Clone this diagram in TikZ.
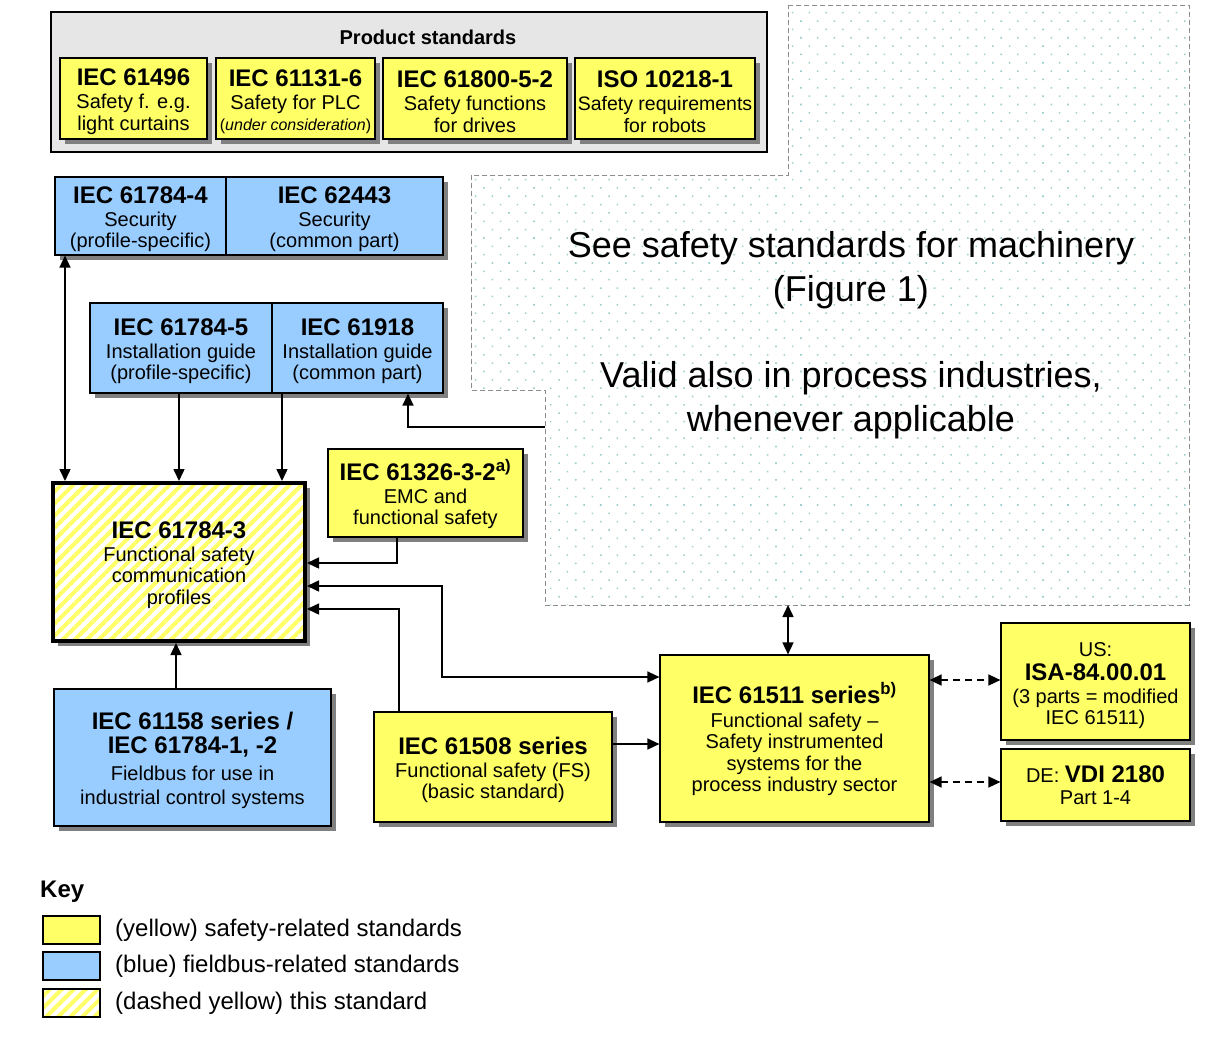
\documentclass[tikz,border=0pt]{standalone}
\usepackage{fontspec}
\setmainfont{Liberation Sans}
\usetikzlibrary{arrows.meta,shadows,patterns.meta}
\definecolor{yel}{HTML}{FFFF66}
\definecolor{blu}{HTML}{99CCFF}
\definecolor{pgray}{HTML}{E6E6E6}
\definecolor{dotc}{HTML}{9CCECE}
\newcommand\ttl[1]{{\bfseries\fontsize{24}{21.5}\selectfont #1}}
\newcommand\tp{\rule{0pt}{23pt}}
\begin{document}
\begin{tikzpicture}[x=1pt,y=-1pt,
  sbox/.style={draw=black, line width=1.2pt, inner sep=0pt, align=center,
    font=\fontsize{20}{21.5}\selectfont,
    drop shadow={shadow xshift=5pt,shadow yshift=-5pt,fill=black!50,opacity=1}},
  ybx/.style={sbox,fill=yel},
  bbx/.style={sbox,fill=blu},
  hatch/.style={preaction={fill=white},pattern={Lines[angle=45,distance=8.5pt,line width=4pt]},pattern color=yel},
  arr/.style={line width=1.5pt,-{Triangle[length=12pt,width=11pt]}},
  darr/.style={line width=1.5pt,{Triangle[length=12pt,width=11pt]}-{Triangle[length=12pt,width=11pt]}},
  ddarr/.style={darr,dash pattern=on 7pt off 5pt},
  keytxt/.style={anchor=west,inner sep=0pt,font=\fontsize{24}{26}\selectfont}
]
\useasboundingbox (0,0) rectangle (1210,1039);

% dotted region (machinery standards)
\draw[black!45, line width=1pt, dash pattern=on 5pt off 3pt,
      pattern={Dots[radius=1.1pt,distance=11.8pt,angle=45]}, pattern color=dotc]
  (788,5) -- (1189,5) -- (1189,605) -- (545,605) -- (545,390) -- (471,390) -- (471,175) -- (788,175) -- cycle;
\node[align=center, font=\fontsize{36}{44}\selectfont] (note) at (851,335)
  {See safety standards for machinery\\ (Figure 1)\\[42pt] Valid also in process industries,\\ whenever applicable};

% product standards
\node[draw=black, line width=1.2pt, fill=pgray, minimum width=716pt, minimum height=140pt, inner sep=0pt] (prod) at (409,82) {};
\node[font=\bfseries\fontsize{20}{22}\selectfont] (ptitle) at (428,37) {Product standards};
\node[ybx, minimum width=147pt, minimum height=81pt] (p1) at (133.5,98.5)
  {\tp\ttl{IEC 61496}\\[1.5pt] Safety f. e.g.\\ light curtains};
\node[ybx, minimum width=159pt, minimum height=81pt] (p2) at (295.5,98.5)
  {\tp\ttl{IEC 61131-6}\\[1.5pt] Safety for PLC\\ {\fontsize{16}{21.5}\selectfont(\textit{under consideration})}};
\node[ybx, minimum width=184pt, minimum height=81pt] (p3) at (475,98.5)
  {\tp\ttl{IEC 61800-5-2}\\[1.5pt] Safety functions\\ for drives};
\node[ybx, minimum width=180pt, minimum height=81pt, font=\fontsize{19.5}{21.5}\selectfont] (p4) at (665,98.5)
  {\tp\ttl{ISO 10218-1}\\[1.5pt] Safety requirements\\ for robots};

% blue boxes
\node[bbx, minimum width=171pt, minimum height=78pt] (b1) at (140.5,216)
  {\tp\ttl{IEC 61784-4}\\[1.5pt] Security\\ (profile-specific)};
\node[bbx, minimum width=217pt, minimum height=78pt] (b2) at (334.5,216)
  {\tp\ttl{IEC 62443}\\[1.5pt] Security\\ (common part)};
\node[bbx, minimum width=182pt, minimum height=90pt] (b3) at (181,348)
  {\tp\ttl{IEC 61784-5}\\[1.5pt] Installation guide\\ (profile-specific)};
\node[bbx, minimum width=171pt, minimum height=90pt] (b4) at (357.5,348)
  {\tp\ttl{IEC 61918}\\[1.5pt] Installation guide\\ (common part)};

% this standard
\node[sbox, line width=4pt, hatch, minimum width=252pt, minimum height=158pt] (m) at (179,562)
  {\tp\ttl{IEC 61784-3}\\[1.5pt] Functional safety\\ communication\\ profiles};

\node[ybx, minimum width=195pt, minimum height=88pt] (e) at (425.5,493)
  {\tp\ttl{IEC 61326-3-2\textsuperscript{a)}}\\[1.5pt] EMC and\\ functional safety};
\node[bbx, minimum width=277pt, minimum height=137pt] (f) at (192.5,757.5)
  {\tp\ttl{IEC 61158 series /}\\[2.5pt] \ttl{IEC 61784-1, -2}\\[5pt] Fieldbus for use in\\[2.5pt] industrial control systems};
\node[ybx, minimum width=238pt, minimum height=110pt] (g) at (493,767)
  {\tp\ttl{IEC 61508 series}\\[1.5pt] Functional safety (FS)\\ (basic standard)};
\node[ybx, minimum width=269pt, minimum height=167pt] (h) at (794.5,738.5)
  {\tp\ttl{IEC 61511 series\textsuperscript{b)}}\\[2pt] Functional safety --\\ Safety instrumented\\ systems for the\\ process industry sector};
\node[ybx, minimum width=189pt, minimum height=117pt] (i) at (1095.5,681.5)
  {\tp US:\\[2pt] \ttl{ISA-84.00.01}\\[1.5pt] (3 parts = modified\\ IEC 61511)};
\node[ybx, minimum width=189pt, minimum height=72pt] (j) at (1095.5,785)
  {DE: \ttl{VDI 2180}\\ Part 1-4};

% helper coordinates
\coordinate (xa) at (65,0);
\coordinate (xb) at (179,0);
\coordinate (xc) at (282,0);
\coordinate (xd) at (397,0);
\coordinate (xe) at (442,0);
\coordinate (xf) at (399,0);
\coordinate (xg) at (176,0);
\coordinate (xh) at (408,0);
\coordinate (xi) at (788,0);
\coordinate (ya) at (0,563);
\coordinate (yb) at (0,586);
\coordinate (yc) at (0,677);
\coordinate (yd) at (0,609);
\coordinate (ye) at (0,744);
\coordinate (yf) at (0,680);
\coordinate (yg) at (0,782);
\coordinate (rr) at (545,427);
\coordinate (rb) at (788,605);

% connectors
\draw[darr] (xa |- b1.south) -- (xa |- m.north);
\draw[arr] (xb |- b3.south) -- (xb |- m.north);
\draw[arr] (xc |- b4.south) -- (xc |- m.north);
\draw[arr] (xd |- e.south) |- (m.east |- ya);
\draw[darr] (m.east |- yb) -| (xe |- yc) -- (h.west |- yc);
\draw[arr] (xf |- g.north) |- (m.east |- yd);
\draw[arr] (xg |- f.north) -- (xg |- m.south);
\draw[arr] (g.east |- ye) -- (h.west |- ye);
\draw[arr] (rr) -| (xh |- b4.south);
\draw[darr] (xi |- h.north) -- (rb);
\draw[ddarr] (h.east |- yf) -- (i.west |- yf);
\draw[ddarr] (h.east |- yg) -- (j.west |- yg);

% key
\node[anchor=west, inner sep=0pt, font=\bfseries\fontsize{24}{26}\selectfont] (key) at (40,892) {Key};
\node[draw=black, line width=1.2pt, fill=yel, minimum width=57pt, minimum height=28pt, inner sep=0pt] (k1) at (71.5,930) {};
\node[draw=black, line width=1.2pt, fill=blu, minimum width=57pt, minimum height=28pt, inner sep=0pt] (k2) at (71.5,966) {};
\node[draw=black, line width=1.2pt, hatch, minimum width=57pt, minimum height=28pt, inner sep=0pt] (k3) at (71.5,1003) {};
\node[keytxt] (t1) at (115,930) {(yellow) safety-related standards};
\node[keytxt] (t2) at (115,966) {(blue) fieldbus-related standards};
\node[keytxt] (t3) at (115,1003) {(dashed yellow) this standard};
\end{tikzpicture}
\end{document}
